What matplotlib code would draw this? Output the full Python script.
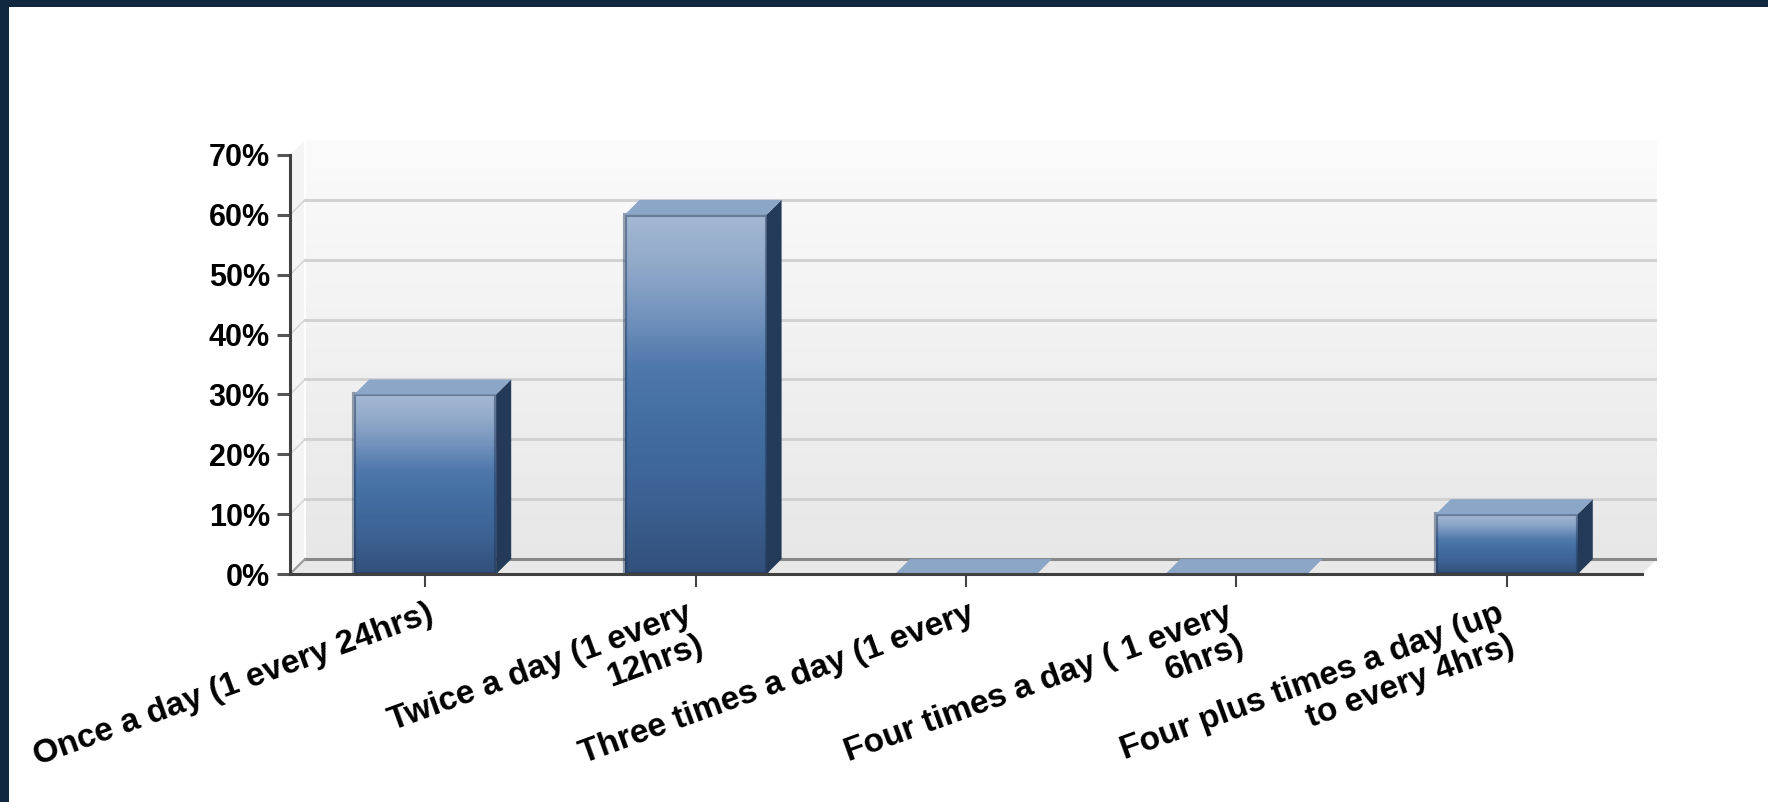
import numpy as np
import matplotlib.pyplot as plt
from matplotlib.patches import Polygon, Rectangle
from matplotlib.colors import LinearSegmentedColormap
from matplotlib.transforms import ScaledTranslation

plt.rcParams['font.family'] = ['Liberation Sans', 'DejaVu Sans']

# data
categories = ['Once a day (1 every 24hrs)',
              'Twice a day (1 every\n12hrs)',
              'Three times a day (1 every',
              'Four times a day ( 1 every\n6hrs)',
              'Four plus times a day (up\nto every 4hrs)']
percent = [30, 60, 0, 0, 10]
yticks = [0, 10, 20, 30, 40, 50, 60, 70]
ytick_labels = ['%d%%' % v for v in yticks]

W, H = 1768, 802
fig = plt.figure(figsize=(W / 100, H / 100), dpi=100)
fig.patch.set_facecolor('#102840')
fig.patches.append(Rectangle((9 / W, 0), 1, (H - 7) / H, transform=fig.transFigure,
                             facecolor='white', edgecolor='none', zorder=-5))

# axes box covers the front plot area plus the 3d depth
ax = fig.add_axes([290 / W, (H - 574) / H, 1367 / W, 434 / H])
ax.patch.set_visible(False)

n = len(categories)
DX = 0.0555   # depth in category units
DY = 2.5      # depth in percent units
BW = 0.525    # bar width
ymax = yticks[-1]

# back wall with soft gradient
wall = LinearSegmentedColormap.from_list('wall', ['#e7e7e7', '#fbfbfb'])
ax.imshow(np.linspace(0, 1, 256).reshape(-1, 1), cmap=wall, origin='lower',
          extent=(DX, n + DX, DY, ymax + DY), aspect='auto', zorder=0)
# left wall and floor
ax.add_patch(Polygon([(0, 0), (DX, DY), (DX, ymax + DY), (0, ymax)],
                     facecolor='#f4f4f4', edgecolor='none', zorder=0.5))
ax.plot([DX, DX], [DY, ymax + DY], color='white', lw=1.5, zorder=0.6)
ax.add_patch(Polygon([(0, 0), (n, 0), (n + DX, DY), (DX, DY)],
                     facecolor='#e8e8e8', edgecolor='none', zorder=0.5))
for v in yticks[1:-1]:
    ax.plot([DX, n + DX], [v + DY, v + DY], color='#d2d2d2', lw=2.2, zorder=1)
    ax.plot([0, DX], [v, v + DY], color='#d6d6d6', lw=1.2, zorder=1)
ax.plot([DX, n + DX], [DY, DY], color='#888888', lw=2.2, zorder=1)
ax.plot([0, DX], [0, DY], color='#9a9a9a', lw=1.5, zorder=1)

# bars
bar_cmap = LinearSegmentedColormap.from_list('bar', [
    (0.0, '#32507a'), (0.2, '#3c6192'), (0.45, '#4470a4'), (0.58, '#5079ab'),
    (0.72, '#7393bd'), (0.87, '#93abca'), (1.0, '#a3b9d4')])
grad = np.linspace(0, 1, 256).reshape(-1, 1)
for i, v in enumerate(percent):
    x0 = i + 0.5 - BW / 2
    x1 = x0 + BW
    z = 3 + i
    if v > 0:
        ax.imshow(grad, cmap=bar_cmap, origin='lower', extent=(x0, x1, 0, v),
                  aspect='auto', zorder=z)
        ax.add_patch(Rectangle((x0, 0), BW, v, fill=False,
                               edgecolor=(0.12, 0.2, 0.33, 0.45), lw=3, zorder=z))
        ax.add_patch(Polygon([(x1, 0), (x1 + DX, DY), (x1 + DX, v + DY), (x1, v)],
                             facecolor='#233a58', edgecolor='none', zorder=z))
    ax.add_patch(Polygon([(x0, v), (x1, v), (x1 + DX, v + DY), (x0 + DX, v + DY)],
                         facecolor='#8ba6c6', edgecolor='none', zorder=z))

ax.set_xlim(0, n + DX)
ax.set_ylim(0, ymax + DY)

for s in ['top', 'right']:
    ax.spines[s].set_visible(False)
ax.spines['left'].set_bounds(0, ymax)
ax.spines['bottom'].set_bounds(0, n)
for s in ['left', 'bottom']:
    ax.spines[s].set_color('#404040')
    ax.spines[s].set_linewidth(2.2)
    ax.spines[s].set_zorder(10)

ax.set_yticks(yticks, ytick_labels, fontsize=22, fontweight='bold')
ax.tick_params(axis='y', length=9.5, width=2.2, color='#555555', pad=5)
ax.set_xticks(np.arange(n) + 0.5, categories, rotation=20, ha='right', va='top',
              fontsize=24, fontweight='bold', linespacing=1.1)
ax.tick_params(axis='x', length=9.5, width=1.5, color='#444444', pad=8)
for lab in ax.get_xticklabels():
    lab.set_transform(lab.get_transform() + ScaledTranslation(12 / 100, 0, fig.dpi_scale_trans))

fig.savefig('out.png', dpi=100, facecolor=fig.get_facecolor())
